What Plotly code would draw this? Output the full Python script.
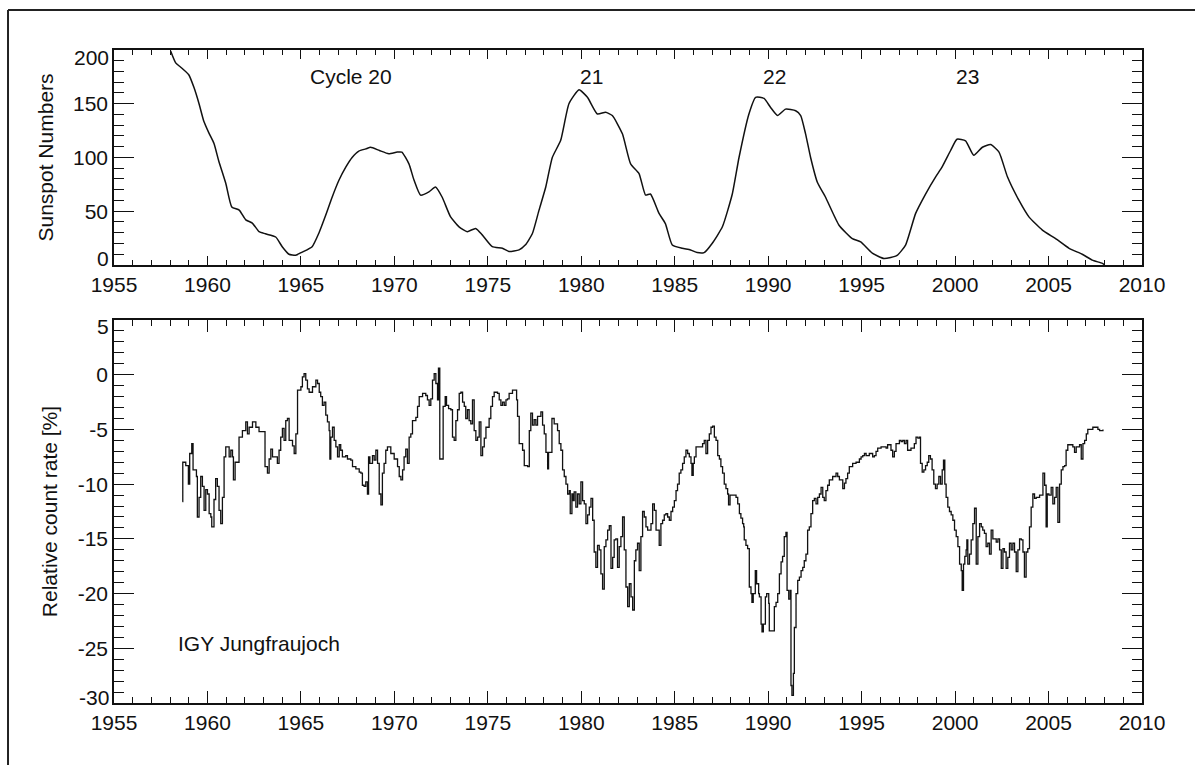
import plotly.graph_objects as go

# ---------------- data ----------------
ssn_year = [1958.03, 1958.30, 1958.57, 1959.00, 1959.28, 1959.55, 1959.80, 1960.10, 1960.35, 1960.60,
            1960.98, 1961.30, 1961.70, 1962.05, 1962.40, 1962.76, 1963.10, 1963.65, 1964.00, 1964.36,
            1964.72, 1965.07, 1965.60, 1965.97, 1966.30, 1966.67, 1967.04, 1967.40, 1967.74, 1968.10,
            1968.47, 1968.73, 1969.20, 1969.70, 1970.15, 1970.40, 1970.78, 1971.05, 1971.40, 1971.85,
            1972.20, 1972.56, 1973.00, 1973.46, 1973.90, 1974.35, 1974.70, 1975.24, 1975.78, 1976.13,
            1976.67, 1977.00, 1977.38, 1977.74, 1978.10, 1978.45, 1978.90, 1979.34, 1979.88, 1980.33,
            1980.86, 1981.30, 1981.66, 1982.20, 1982.64, 1983.09, 1983.44, 1983.70, 1984.16, 1984.50,
            1984.87, 1985.40, 1985.85, 1986.20, 1986.57, 1987.00, 1987.55, 1988.08, 1988.44, 1988.97,
            1989.33, 1989.78, 1990.13, 1990.50, 1990.93, 1991.47, 1991.74, 1992.00, 1992.27, 1992.63,
            1993.07, 1993.79, 1994.50, 1994.95, 1995.57, 1996.20, 1996.90, 1997.35, 1997.89, 1998.42,
            1998.96, 1999.30, 1999.76, 2000.10, 2000.56, 2001.00, 2001.46, 2001.90, 2002.35, 2002.80,
            2003.42, 2003.96, 2004.67, 2005.38, 2006.10, 2006.80, 2007.34, 2007.88, 2008.00]
ssn_value = [199, 188, 184, 177, 165, 150, 134, 122, 113, 97,
             76, 54, 51, 42, 39, 31, 29, 26, 17, 10,
             9, 12, 17, 30, 45, 63, 79, 91, 100, 106,
             108, 109.5, 106.5, 103.5, 105, 105, 94, 79, 65, 68,
             72.5, 63, 45, 35.5, 31, 34, 28, 17, 15.5, 12.5,
             14, 18.5, 29, 51, 72.5, 100, 116, 150, 163, 156,
             140.5, 142, 139, 122, 94, 85, 65, 66, 48, 38.5,
             18.5, 15.5, 14, 11.5, 11.5, 20, 35.5, 66, 100, 140.5,
             156, 155, 146.5, 139, 145, 143.5, 139, 122, 100, 77,
             63, 37, 24.5, 21.5, 11, 6, 9, 18.5, 48, 66,
             82, 91, 106.5, 117, 115.5, 102, 109.5, 112, 105, 82,
             60, 44.5, 32.5, 24.5, 15.5, 10, 4.5, 1.5, 0]

nm_year = [
    1958.66, 1958.68, 1958.84, 1958.98, 1959.05, 1959.16, 1959.23, 1959.41, 1959.46, 1959.55,
    1959.64, 1959.73, 1959.82, 1959.91, 1960.00, 1960.09, 1960.18, 1960.23, 1960.35, 1960.44,
    1960.53, 1960.62, 1960.71, 1960.80, 1960.89, 1960.98, 1961.16, 1961.25, 1961.34, 1961.39,
    1961.48, 1961.69, 1961.87, 1962.05, 1962.14, 1962.23, 1962.41, 1962.59, 1962.76, 1963.08,
    1963.21, 1963.30, 1963.39, 1963.48, 1963.74, 1963.83, 1963.92, 1964.01, 1964.10, 1964.19,
    1964.28, 1964.37, 1964.55, 1964.64, 1964.73, 1964.82, 1965.00, 1965.08, 1965.17, 1965.26,
    1965.35, 1965.44, 1965.62, 1965.80, 1965.89, 1965.98, 1966.06, 1966.15, 1966.24, 1966.33,
    1966.42, 1966.51, 1966.55, 1966.60, 1966.69, 1966.78, 1966.87, 1966.96, 1967.05, 1967.13,
    1967.22, 1967.40, 1967.49, 1967.67, 1967.76, 1967.94, 1968.12, 1968.21, 1968.29, 1968.38,
    1968.47, 1968.56, 1968.62, 1968.69, 1968.83, 1968.92, 1969.01, 1969.10, 1969.19, 1969.28,
    1969.36, 1969.45, 1969.54, 1969.63, 1969.81, 1969.99, 1970.17, 1970.26, 1970.35, 1970.44,
    1970.52, 1970.61, 1970.70, 1970.79, 1970.88, 1970.97, 1971.15, 1971.24, 1971.33, 1971.51,
    1971.68, 1971.77, 1971.86, 1971.95, 1972.04, 1972.13, 1972.22, 1972.31, 1972.36, 1972.43,
    1972.58, 1972.61, 1972.72, 1972.79, 1972.90, 1973.02, 1973.11, 1973.20, 1973.29, 1973.38,
    1973.47, 1973.56, 1973.65, 1973.74, 1973.82, 1973.91, 1974.00, 1974.09, 1974.18, 1974.27,
    1974.36, 1974.45, 1974.54, 1974.63, 1974.72, 1974.81, 1974.90, 1975.07, 1975.16, 1975.25,
    1975.34, 1975.52, 1975.61, 1975.70, 1975.79, 1975.88, 1975.97, 1976.05, 1976.14, 1976.32,
    1976.47, 1976.54, 1976.59, 1976.68, 1976.86, 1976.95, 1977.13, 1977.22, 1977.30, 1977.39,
    1977.48, 1977.57, 1977.66, 1977.84, 1977.93, 1978.02, 1978.11, 1978.20, 1978.25, 1978.38,
    1978.43, 1978.55, 1978.73, 1978.82, 1978.91, 1979.00, 1979.09, 1979.18, 1979.27, 1979.36,
    1979.41, 1979.50, 1979.57, 1979.62, 1979.71, 1979.80, 1979.89, 1979.98, 1980.07, 1980.16,
    1980.25, 1980.34, 1980.43, 1980.52, 1980.61, 1980.69, 1980.78, 1980.87, 1980.96, 1981.05,
    1981.14, 1981.23, 1981.32, 1981.41, 1981.50, 1981.59, 1981.68, 1981.76, 1981.85, 1981.94,
    1982.03, 1982.12, 1982.21, 1982.30, 1982.39, 1982.48, 1982.57, 1982.66, 1982.75, 1982.84,
    1982.92, 1983.01, 1983.10, 1983.19, 1983.28, 1983.37, 1983.46, 1983.55, 1983.73, 1983.82,
    1983.91, 1984.00, 1984.17, 1984.26, 1984.35, 1984.44, 1984.53, 1984.62, 1984.71, 1984.80,
    1984.89, 1984.98, 1985.07, 1985.15, 1985.24, 1985.33, 1985.42, 1985.51, 1985.60, 1985.69,
    1985.78, 1985.87, 1985.92, 1985.99, 1986.05, 1986.14, 1986.49, 1986.58, 1986.67, 1986.76,
    1986.85, 1986.94, 1987.03, 1987.12, 1987.21, 1987.30, 1987.39, 1987.47, 1987.56, 1987.65,
    1987.74, 1987.83, 1987.88, 1987.96, 1988.28, 1988.37, 1988.46, 1988.54, 1988.63, 1988.69,
    1988.72, 1988.81, 1988.90, 1988.99, 1989.08, 1989.13, 1989.20, 1989.31, 1989.38, 1989.49,
    1989.53, 1989.62, 1989.67, 1989.74, 1989.85, 1989.92, 1990.03, 1990.06, 1990.24, 1990.33,
    1990.42, 1990.51, 1990.60, 1990.69, 1990.77, 1990.86, 1990.95, 1991.01, 1991.10, 1991.18,
    1991.22, 1991.27, 1991.35, 1991.40, 1991.49, 1991.58, 1991.67, 1991.76, 1991.85, 1991.93,
    1992.02, 1992.11, 1992.20, 1992.29, 1992.38, 1992.47, 1992.56, 1992.65, 1992.74, 1992.83,
    1992.92, 1993.00, 1993.09, 1993.18, 1993.27, 1993.45, 1993.63, 1993.72, 1993.81, 1993.99,
    1994.08, 1994.16, 1994.25, 1994.34, 1994.52, 1994.70, 1994.88, 1994.97, 1995.06, 1995.15,
    1995.24, 1995.41, 1995.59, 1995.68, 1995.77, 1995.86, 1996.04, 1996.31, 1996.39, 1996.57,
    1996.66, 1996.75, 1996.84, 1997.02, 1997.11, 1997.20, 1997.29, 1997.38, 1997.46, 1997.64,
    1997.82, 1997.91, 1998.01, 1998.10, 1998.15, 1998.24, 1998.33, 1998.42, 1998.51, 1998.59,
    1998.68, 1998.77, 1998.86, 1998.95, 1999.04, 1999.13, 1999.22, 1999.31, 1999.38, 1999.45,
    1999.52, 1999.61, 1999.70, 1999.79, 1999.88, 1999.97, 2000.06, 2000.15, 2000.24, 2000.33,
    2000.38, 2000.45, 2000.52, 2000.59, 2000.63, 2000.68, 2000.77, 2000.86, 2000.95, 2001.04,
    2001.13, 2001.22, 2001.31, 2001.40, 2001.48, 2001.57, 2001.66, 2001.75, 2001.84, 2001.93,
    2002.02, 2002.20, 2002.29, 2002.38, 2002.47, 2002.56, 2002.64, 2002.73, 2002.82, 2002.91,
    2003.00, 2003.09, 2003.18, 2003.27, 2003.36, 2003.45, 2003.54, 2003.63, 2003.71, 2003.80,
    2003.89, 2003.98, 2004.07, 2004.16, 2004.25, 2004.34, 2004.52, 2004.70, 2004.79, 2004.87,
    2004.93, 2005.02, 2005.14, 2005.23, 2005.32, 2005.41, 2005.50, 2005.59, 2005.68, 2005.77,
    2005.86, 2005.94, 2006.03, 2006.30, 2006.39, 2006.48, 2006.66, 2006.75, 2006.84, 2006.93,
    2007.02, 2007.10, 2007.37, 2007.55, 2007.64, 2007.73, 2007.91]
nm_value = [
    -11.6, -8.0, -8.3, -10.0, -7.2, -6.3, -8.7, -9.3, -13.0, -11.2,
    -9.3, -10.2, -12.4, -10.5, -10.9, -12.7, -13.0, -13.9, -11.4, -9.5,
    -10.2, -12.4, -13.6, -11.2, -7.5, -6.6, -7.5, -6.9, -7.5, -9.6,
    -8.0, -5.7, -5.1, -4.3, -5.4, -4.8, -4.3, -4.8, -5.2, -8.4,
    -9.0, -7.7, -6.8, -7.5, -8.1, -6.9, -5.7, -4.9, -6.0, -4.2,
    -4.0, -6.0, -6.5, -7.2, -5.4, -1.4, -1.1, -0.2, 0.1, -0.5,
    -1.3, -1.6, -1.1, -0.5, -0.8, -1.6, -2.0, -2.8, -2.5, -3.7,
    -4.3, -5.1, -7.7, -5.7, -4.8, -6.0, -6.6, -7.5, -6.4, -6.9,
    -7.5, -7.4, -7.7, -7.8, -8.4, -8.6, -8.9, -9.0, -10.1, -10.2,
    -9.8, -10.9, -7.5, -8.1, -7.4, -7.8, -6.9, -8.1, -10.9, -11.9,
    -9.0, -8.1, -6.9, -6.6, -7.2, -7.7, -8.4, -9.3, -9.6, -8.7,
    -7.5, -6.8, -8.1, -5.7, -5.4, -4.2, -3.9, -2.9, -2.0, -1.7,
    -1.9, -2.3, -2.8, -2.2, -0.5, 0.1, -0.8, -2.3, 0.6, -7.7,
    -7.7, -2.9, -2.0, -2.8, -3.1, -3.2, -5.7, -6.0, -4.2, -3.2,
    -1.7, -1.6, -2.5, -2.9, -4.0, -3.2, -4.2, -4.5, -2.3, -5.1,
    -6.0, -5.7, -4.3, -7.4, -6.6, -5.8, -4.8, -4.0, -2.9, -2.0,
    -1.6, -1.7, -2.3, -2.8, -2.5, -2.8, -2.3, -2.2, -1.7, -1.4,
    -1.4, -2.3, -3.8, -6.3, -6.9, -8.3, -8.4, -5.1, -3.5, -4.6,
    -4.1, -4.6, -3.8, -3.4, -4.6, -5.4, -7.1, -8.6, -7.1, -7.1,
    -4.0, -4.5, -5.1, -6.3, -6.9, -8.7, -9.3, -10.0, -10.9, -10.6,
    -12.7, -10.9, -11.5, -10.7, -12.1, -10.9, -11.8, -9.8, -11.5, -11.8,
    -13.6, -12.8, -12.1, -11.3, -13.3, -16.2, -17.6, -15.6, -16.0, -18.2,
    -19.6, -15.7, -15.1, -14.2, -13.8, -17.7, -16.7, -15.1, -15.0, -17.6,
    -15.7, -14.8, -13.0, -16.0, -19.4, -21.2, -19.1, -20.3, -21.5, -17.0,
    -16.0, -15.4, -17.9, -14.8, -12.5, -13.0, -13.9, -14.2, -13.6, -11.8,
    -12.4, -14.2, -15.6, -13.6, -13.3, -12.8, -12.7, -13.0, -13.3, -12.5,
    -12.1, -11.5, -10.6, -10.0, -9.0, -8.7, -8.1, -7.5, -6.9, -7.2,
    -7.5, -8.1, -9.2, -8.1, -7.5, -6.6, -6.3, -6.0, -7.2, -6.0,
    -5.4, -4.8, -4.7, -5.7, -6.0, -7.4, -7.7, -8.4, -9.0, -10.0,
    -10.4, -10.9, -11.9, -11.0, -11.2, -11.8, -12.7, -13.1, -13.6, -13.9,
    -15.1, -15.6, -15.9, -19.4, -20.0, -20.8, -20.0, -17.9, -19.1, -20.0,
    -20.3, -22.8, -23.5, -22.8, -20.3, -20.0, -20.9, -23.4, -23.4, -21.2,
    -20.8, -20.0, -18.2, -17.1, -16.6, -14.8, -14.4, -19.7, -20.5, -19.7,
    -28.4, -29.3, -27.3, -23.1, -20.0, -18.8, -18.5, -17.9, -17.6, -17.0,
    -16.4, -14.2, -13.9, -12.7, -11.5, -11.3, -11.8, -11.2, -10.9, -10.3,
    -11.2, -11.5, -10.6, -10.1, -9.6, -9.3, -9.0, -9.3, -9.6, -10.4,
    -9.9, -9.5, -9.0, -8.4, -8.1, -8.0, -7.7, -7.5, -7.4, -7.2,
    -7.4, -7.2, -7.5, -7.4, -7.0, -6.7, -6.6, -6.7, -6.4, -6.9,
    -7.5, -7.0, -6.3, -6.0, -6.1, -6.0, -6.3, -6.0, -6.9, -6.7,
    -6.3, -5.7, -5.8, -5.7, -8.1, -8.9, -8.7, -8.3, -8.0, -7.4,
    -7.7, -8.7, -10.0, -10.4, -10.0, -9.3, -10.0, -8.7, -7.8, -10.0,
    -11.2, -12.1, -12.5, -12.8, -13.3, -14.2, -14.8, -15.7, -17.3, -17.9,
    -19.7, -17.3, -16.6, -16.0, -15.1, -17.3, -16.4, -15.1, -13.6, -12.2,
    -17.3, -14.8, -13.6, -13.9, -14.2, -14.5, -15.7, -15.4, -16.4, -14.2,
    -15.0, -15.3, -15.0, -16.0, -17.7, -15.9, -16.2, -17.7, -16.7, -15.4,
    -16.0, -15.4, -16.2, -18.0, -16.0, -15.0, -15.1, -16.2, -18.5, -16.2,
    -15.9, -13.9, -12.1, -10.9, -11.3, -11.2, -11.0, -9.0, -10.1, -13.9,
    -10.9, -11.0, -10.3, -11.8, -11.2, -10.3, -13.5, -10.0, -8.7, -8.4,
    -8.3, -6.9, -6.4, -6.6, -7.1, -6.6, -6.4, -7.7, -6.3, -6.0,
    -5.4, -5.0, -4.8, -4.8, -5.0, -5.1, -5.0]

year_ticks = [1955, 1960, 1965, 1970, 1975, 1980, 1985, 1990, 1995, 2000, 2005, 2010]
ssn_ticks = [0, 50, 100, 150, 200]
ssn_ticklabels = ["0", "50", "100", "150", "200"]
rate_ticks = [5, 0, -5, -10, -15, -20, -25, -30]
rate_ticklabels = ["5", "0", "-5", "-10", "-15", "-20", "-25", "-30"]

cycle_labels = ["Cycle 20", "21", "22", "23"]
cycle_x = [1967.69, 1980.54, 1990.33, 2000.68]
cycle_y = [175, 175, 175, 175]

# ---------------- figure ----------------
FONT = "Liberation Sans, Arial, Helvetica, sans-serif"
INK = "#111111"

fig = go.Figure()
fig.add_trace(go.Scatter(x=ssn_year, y=ssn_value, mode="lines",
                         line=dict(color=INK, width=1.5, shape="spline", smoothing=0.5),
                         xaxis="x", yaxis="y", showlegend=False, hoverinfo="skip"))
fig.add_trace(go.Scatter(x=nm_year, y=nm_value, mode="lines",
                         line=dict(color=INK, width=1.3, shape="hv"), xaxis="x2", yaxis="y2",
                         showlegend=False, hoverinfo="skip"))

common_axis = dict(showline=True, linecolor=INK, linewidth=1.5, mirror="ticks",
                   ticks="inside", tickcolor=INK, tickwidth=1.3, showgrid=False,
                   zeroline=False, tickfont=dict(family=FONT, size=21, color=INK))

# the end labels of the y axes sit nudged inward in the original; draw those as text
ssn_axis_text = ["" if v in (0, 200) else t for v, t in zip(ssn_ticks, ssn_ticklabels)]
rate_axis_text = ["" if v in (5, -30) else t for v, t in zip(rate_ticks, rate_ticklabels)]

fig.update_layout(
    width=1195, height=765,
    margin=dict(l=114, r=53, t=50, b=62),
    paper_bgcolor="white", plot_bgcolor="white",
    font=dict(family=FONT, size=21, color=INK),
    xaxis=dict(domain=[0, 1], anchor="y", range=[1955, 2010], tickvals=year_ticks,
               ticklen=9, minor=dict(dtick=1, tick0=1955, ticks="inside", ticklen=5,
                                     tickcolor=INK, tickwidth=1.2, showgrid=False),
               **common_axis),
    yaxis=dict(domain=[0.6708, 1.0], anchor="x", range=[0, 200], tickvals=ssn_ticks,
               ticktext=ssn_axis_text,
               ticklen=20, minor=dict(dtick=10, tick0=0, ticks="inside", ticklen=10,
                                      tickcolor=INK, tickwidth=1.2, showgrid=False),
               title=dict(text="Sunspot Numbers", font=dict(family=FONT, size=21, color=INK),
                          standoff=14),
               **common_axis),
    xaxis2=dict(domain=[0, 1], anchor="y2", range=[1955, 2010], tickvals=year_ticks,
                ticklen=12, minor=dict(dtick=1, tick0=1955, ticks="inside", ticklen=6,
                                       tickcolor=INK, tickwidth=1.2, showgrid=False),
                **common_axis),
    yaxis2=dict(domain=[0, 0.5865], anchor="x2", range=[-30, 5], tickvals=rate_ticks,
                ticktext=rate_axis_text,
                ticklen=20, minor=dict(dtick=1, tick0=0, ticks="inside", ticklen=10,
                                       tickcolor=INK, tickwidth=1.2, showgrid=False),
                title=dict(text="Relative count rate [%]", font=dict(family=FONT, size=21, color=INK),
                           standoff=14),
                **common_axis),
)

edge_labels = [("y", 0, "0", 6), ("y", 200, "200", -7),
               ("y2", 5, "5", -6), ("y2", -30, "-30", 5)]
for yref, val, txt, shift in edge_labels:
    fig.add_annotation(x=0, xref="paper", y=val, yref=yref, text=txt, showarrow=False,
                       xanchor="right", yanchor="middle", xshift=-3, yshift=shift,
                       font=dict(family=FONT, size=21, color=INK))

for lbl, cx, cy in zip(cycle_labels, cycle_x, cycle_y):
    fig.add_annotation(x=cx, y=cy, xref="x", yref="y", text=lbl, showarrow=False,
                       xanchor="center", yanchor="middle",
                       font=dict(family=FONT, size=21, color=INK))

fig.add_annotation(x=1958.32, y=-24.6, xref="x2", yref="y2", text="IGY Jungfraujoch",
                   showarrow=False, xanchor="left", yanchor="middle",
                   font=dict(family=FONT, size=21, color=INK))

# outer frame of the figure (left and top edges visible in the original scan)
fig.add_shape(type="line", xref="paper", yref="paper", x0=-0.1031, x1=-0.1031,
              y0=-0.095, y1=1.0613, line=dict(color="#222222", width=2))
fig.add_shape(type="line", xref="paper", yref="paper", x0=-0.1031, x1=1.0516,
              y0=1.0613, y1=1.0613, line=dict(color="#222222", width=2))

fig.write_html("out.html")
